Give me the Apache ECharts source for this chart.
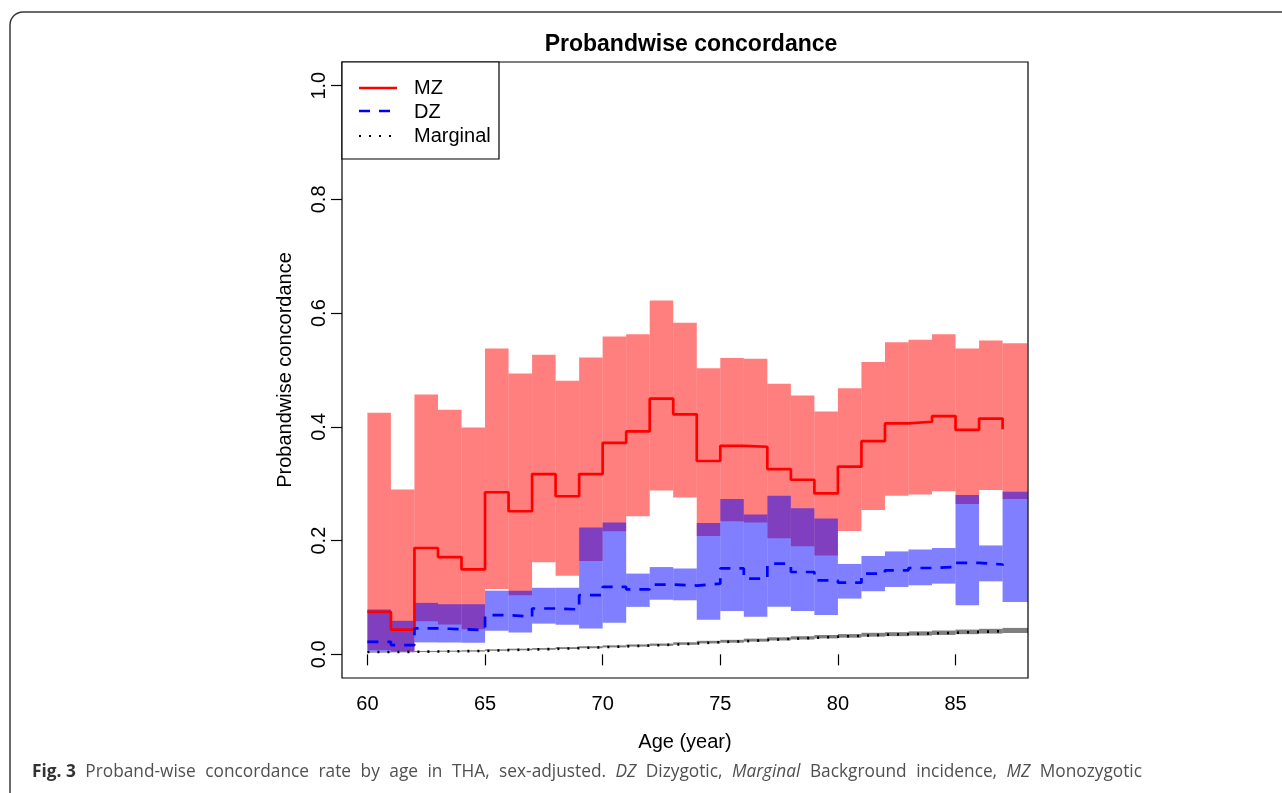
<!DOCTYPE html>
<html>
<head>
<meta charset="utf-8">
<script src="https://cdn.jsdelivr.net/npm/echarts@6/dist/echarts.min.js"></script>
<style>
html,body{margin:0;padding:0;background:#fff;}
#chart{width:1282px;height:793px;}
</style>
</head>
<body>
<div id="chart"></div>
<script>
// ---- data ----
const years = [60,61,62,63,64,65,66,67,68,69,70,71,72,73,74,75,76,77,78,79,80,81,82,83,84,85,86,87];
const mzUpper = [0.425,0.290,0.457,0.430,0.399,0.538,0.494,0.527,0.481,0.522,0.559,0.563,0.622,0.583,0.503,0.521,0.520,0.476,0.455,0.427,0.468,0.514,0.549,0.553,0.563,0.538,0.552,0.547];
const mzLower = [0.0075,0.006,0.058,0.0525,0.044,0.115,0.104,0.162,0.138,0.164,0.2166,0.243,0.288,0.276,0.208,0.234,0.232,0.204,0.190,0.174,0.217,0.254,0.279,0.281,0.287,0.2645,0.289,0.273];
const dzUpper = [0.079,0.059,0.0905,0.088,0.088,0.112,0.112,0.117,0.117,0.223,0.232,0.142,0.1535,0.151,0.231,0.273,0.246,0.279,0.257,0.239,0.159,0.173,0.181,0.1845,0.187,0.280,0.1915,0.286];
const dzLower = [0.005,0.005,0.021,0.021,0.0205,0.0415,0.0385,0.054,0.052,0.0455,0.0555,0.0835,0.096,0.095,0.061,0.076,0.066,0.0835,0.076,0.069,0.098,0.111,0.1185,0.1214,0.1243,0.0864,0.1284,0.092];
const margLower = [0.003,0.0035,0.004,0.0045,0.0048,0.0062,0.0071,0.008,0.0094,0.0108,0.0122,0.0136,0.015,0.0168,0.0192,0.0205,0.0224,0.0244,0.0261,0.028,0.0293,0.0311,0.032,0.033,0.0341,0.0355,0.0365,0.0375];
const margUpper = [0.005,0.0055,0.006,0.0065,0.0072,0.0088,0.0099,0.011,0.0126,0.0142,0.0158,0.0174,0.019,0.0212,0.0238,0.0255,0.0276,0.03,0.0319,0.034,0.0357,0.0379,0.039,0.0404,0.0419,0.0435,0.0449,0.0465];
// point estimates at each age (last value = end of the step at 87)
const mzLine = [0.0747,0.0435,0.187,0.171,0.1494,0.285,0.2516,0.317,0.278,0.317,0.372,0.392,0.4495,0.422,0.340,0.3666,0.365,0.3257,0.307,0.283,0.33,0.3748,0.406,0.409,0.419,0.3946,0.4145,0.396];
const dzLine = [0.022,0.0163,0.0455,0.0443,0.0426,0.069,0.066,0.0806,0.079,0.104,0.1185,0.1144,0.1226,0.121,0.1243,0.151,0.133,0.1594,0.1448,0.130,0.126,0.142,0.1477,0.1518,0.1535,0.161,0.158,0.156];
const margLine = [0.004,0.0045,0.005,0.0055,0.006,0.0075,0.0085,0.0095,0.011,0.0125,0.014,0.0155,0.017,0.019,0.0215,0.023,0.025,0.0272,0.029,0.031,0.0325,0.0345,0.0355,0.0367,0.038,0.0395,0.0407,0.042];
const xTicks = [60,65,70,75,80,85];
const yTicks = [0,0.2,0.4,0.6,0.8,1.0];
const legendNames = ['MZ','DZ','Marginal'];
const titleText = 'Probandwise concordance';
const xName = 'Age (year)';
const yName = 'Probandwise concordance';
const captionWords = ['{b|Fig. 3}','Proband-wise','concordance','rate','by','age','in','THA,','sex-adjusted.','{i|DZ}','Dizygotic,','{i|Marginal}','Background','incidence,','{i|MZ}','Monozygotic'];
const xMin = 58.92, xMax = 88.08, yMin = -0.0416, yMax = 1.0416;
const bandEndLast = 89;

const FONT = 'Liberation Sans, Arial, Helvetica, sans-serif';
const FS = 20;

function bandData(lo, hi) {
  return years.map((y, i) => [y, i < years.length - 1 ? years[i + 1] : bandEndLast, lo[i], hi[i]]);
}
function lineData(v) {
  return years.map((y, i) => [y, v[i]]);
}
function bandSeries(name, lo, hi, color) {
  return {
    type: 'custom', name: name, silent: true,
    data: bandData(lo, hi),
    encode: { x: [0, 1], y: [2, 3] },
    renderItem: function (params, api) {
      const p0 = api.coord([api.value(0), api.value(3)]);
      const p1 = api.coord([api.value(1), api.value(2)]);
      const shape = echarts.graphic.clipRectByRect(
        { x: p0[0], y: p0[1], width: p1[0] - p0[0], height: p1[1] - p0[1] },
        { x: params.coordSys.x, y: params.coordSys.y, width: params.coordSys.width, height: params.coordSys.height }
      );
      if (!shape) return;
      return { type: 'rect', shape: shape, style: { fill: color } };
    }
  };
}
function stepSeries(name, v, color, width, dash) {
  return {
    type: 'line', name: name, data: lineData(v), step: 'end',
    symbol: 'none', showSymbol: false, silent: true,
    lineStyle: { color: color, width: width, type: dash, cap: 'butt' }
  };
}

const chart = echarts.init(document.getElementById('chart'), null, { renderer: 'canvas' });
const legX = 342, legY = 62;
chart.setOption({
  animation: false,
  backgroundColor: '#fff',
  title: {
    text: titleText, left: 686, top: 28, textAlign: 'center',
    textStyle: { fontFamily: FONT, fontWeight: 'bold', fontSize: 23, color: '#000' }
  },
  grid: { left: 342, right: 254, top: 62, bottom: 115, show: true, borderColor: '#000', borderWidth: 1.2, backgroundColor: 'transparent' },
  xAxis: {
    type: 'value', min: xMin, max: xMax,
    name: xName, nameLocation: 'middle', nameGap: 54,
    nameTextStyle: { fontFamily: FONT, fontSize: FS, color: '#000' },
    axisLine: { show: false },
    splitLine: { show: false },
    axisTick: { show: true, length: 11, inside: false, lineStyle: { color: '#000', width: 1.2 }, customValues: xTicks },
    axisLabel: { customValues: xTicks, margin: 16, fontFamily: FONT, fontSize: FS, color: '#000', formatter: v => String(v) }
  },
  yAxis: {
    type: 'value', min: yMin, max: yMax,
    name: yName, nameLocation: 'middle', nameGap: 47, nameRotate: 90,
    nameTextStyle: { fontFamily: FONT, fontSize: FS, color: '#000' },
    axisLine: { show: false },
    splitLine: { show: false },
    axisTick: { show: true, length: 11, lineStyle: { color: '#000', width: 1.2 }, customValues: yTicks },
    axisLabel: { customValues: yTicks, rotate: 90, margin: 13, fontFamily: FONT, fontSize: FS, color: '#000', formatter: v => v.toFixed(1) }
  },
  series: [
    bandSeries('MZ band', mzLower, mzUpper, 'rgba(255,0,0,0.5)'),
    stepSeries('MZ', mzLine, '#ff0000', 2.7, 'solid'),
    bandSeries('DZ band', dzLower, dzUpper, 'rgba(0,0,255,0.5)'),
    stepSeries('DZ', dzLine, '#0000ff', 2.7, [11, 9]),
    bandSeries('Marginal band', margLower, margUpper, 'rgba(0,0,0,0.5)'),
    stepSeries('Marginal', margLine, '#000000', 2.6, [2, 8])
  ],
  graphic: [
    { type: 'rect', shape: { x: 10, y: 12, width: 1300, height: 820, r: 13 }, style: { fill: 'none', stroke: '#3a3a3a', lineWidth: 1.5 }, silent: true },
    { type: 'rect', shape: { x: legX, y: legY, width: 157, height: 97 }, style: { fill: '#fff', stroke: '#000', lineWidth: 1.2 }, z: 10 },
    { type: 'line', shape: { x1: legX + 17, y1: legY + 26, x2: legX + 55, y2: legY + 26 }, style: { stroke: '#ff0000', lineWidth: 2.7 }, z: 11 },
    { type: 'line', shape: { x1: legX + 17, y1: legY + 49, x2: legX + 55, y2: legY + 49 }, style: { stroke: '#0000ff', lineWidth: 2.7, lineDash: [11, 9] }, z: 11 },
    { type: 'line', shape: { x1: legX + 17, y1: legY + 74, x2: legX + 55, y2: legY + 74 }, style: { stroke: '#000', lineWidth: 2.2, lineDash: [2, 8] }, z: 11 },
    { type: 'text', x: legX + 72, y: legY + 26, style: { text: legendNames[0], font: FS + 'px ' + FONT, fill: '#000', verticalAlign: 'middle' }, z: 11 },
    { type: 'text', x: legX + 72, y: legY + 50, style: { text: legendNames[1], font: FS + 'px ' + FONT, fill: '#000', verticalAlign: 'middle' }, z: 11 },
    { type: 'text', x: legX + 72, y: legY + 74, style: { text: legendNames[2], font: FS + 'px ' + FONT, fill: '#000', verticalAlign: 'middle' }, z: 11 },
    {
      type: 'text', x: 32, y: 772, z: 11,
      style: {
        text: captionWords.join('{sp| }'),
        font: '17.3px "Open Sans", sans-serif', fill: '#505050', verticalAlign: 'middle',
        rich: {
          b: { fontFamily: 'Open Sans', fontSize: 17.3, fontWeight: 'bold', fill: '#333' },
          i: { fontFamily: 'Open Sans', fontSize: 17.3, fontStyle: 'italic', fill: '#505050' },
          sp: { fontFamily: 'Open Sans', fontSize: 17.3, width: 9.5 }
        }
      }
    }
  ]
});
</script>
</body>
</html>
